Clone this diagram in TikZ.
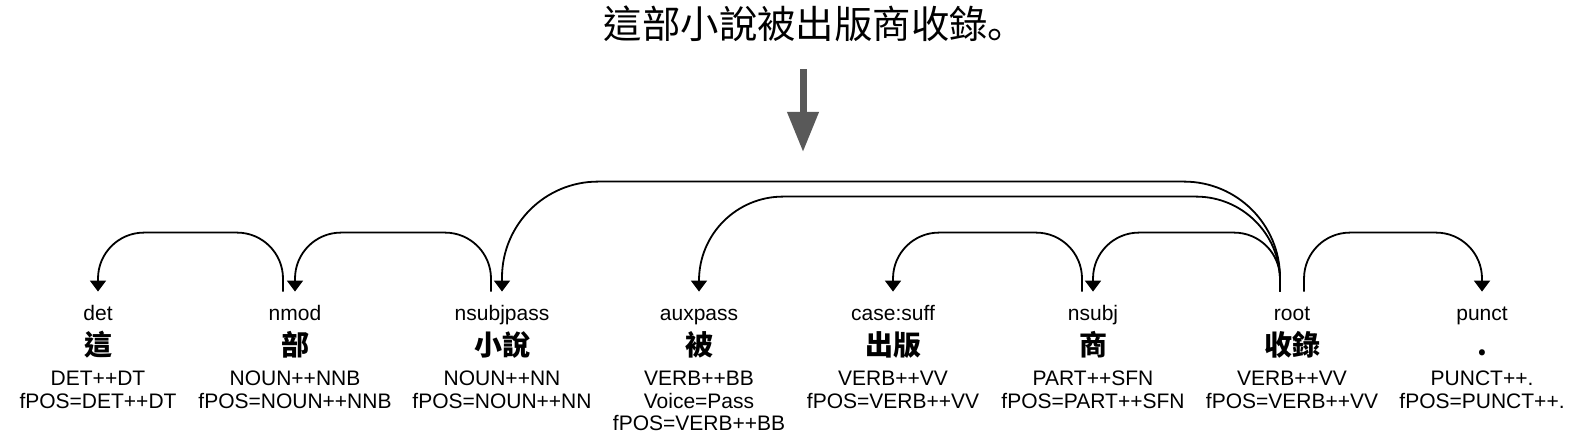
\documentclass[tikz,border=0pt]{standalone}
\usepackage{fontspec}
\setmainfont{Liberation Sans}
\newfontfamily\cjk{Noto Sans CJK TC}
\newfontfamily\cjksc{Noto Sans CJK SC}
\usepackage{tikz}
\usetikzlibrary{arrows.meta, positioning}
\definecolor{arrowgray}{HTML}{595959}
\tikzstyle{title} = [font=\cjk\fontsize{19.2}{19.2}\selectfont, inner sep=0pt, text height=15.5pt, text depth=3.7pt]
\tikzstyle{deprel} = [font=\fontsize{10.5}{12}\selectfont, inner xsep=0pt, inner ysep=7pt, text height=7.5pt, text depth=0pt, anchor=base]
\tikzstyle{word} = [font=\cjk\bfseries\fontsize{14}{14}\selectfont, inner sep=0pt, anchor=base]
\tikzstyle{feats} = [font=\fontsize{10.5}{11.4}\selectfont, align=center, inner sep=0pt, anchor=north]
\tikzstyle{arc} = [line width=0.9pt, -{Triangle[width=8pt,length=5.5pt]}]
\tikzstyle{bigarrow} = [line width=3.5pt, draw=arrowgray, -{Triangle[width=15pt,length=20pt]}]

\begin{document}
\begin{tikzpicture}[x=0.5pt, y=0.5pt]
\useasboundingbox (0,0) rectangle (1582,438);

\node (sent) [title] at (815,411) {這部小說被出版商收錄{\cjksc 。}};
\coordinate (tip) at (803,286);
\draw [bigarrow, shorten <=11.25pt] (sent.south -| tip) -- (tip);

% relation labels
\node (det) [deprel] at (98,117) {det};
\node (nmod) [deprel] at (295,117) {nmod};
\node (nsubjpass) [deprel] at (502,117) {nsubjpass};
\node (auxpass) [deprel] at (699,117) {auxpass};
\node (casesuff) [deprel] at (893,117) {case:suff};
\node (nsubj) [deprel] at (1093,117) {nsubj};
\node (root) [deprel] at (1292,117) {root};
\node (punct) [deprel] at (1482,117) {punct};

% tokens
\node (zhe) [word] at ([yshift=-17.5pt]det.base) {這};
\node (bu) [word] at ([yshift=-17.5pt]nmod.base) {部};
\node (xiaoshuo) [word] at ([yshift=-17.5pt]nsubjpass.base) {小說};
\node (bei) [word] at ([yshift=-17.5pt]auxpass.base) {被};
\node (chuban) [word] at ([yshift=-17.5pt]casesuff.base) {出版};
\node (shang) [word] at ([yshift=-17.5pt]nsubj.base) {商};
\node (shoulu) [word] at ([yshift=-17.5pt]root.base) {收錄};
\node (dot) [word] at ([yshift=-17.5pt]punct.base) {.};

% features
\node (f1) [feats] at ([yshift=-7.2pt]zhe.base) {DET++DT\\fPOS=DET++DT};
\node (f2) [feats] at ([yshift=-7.2pt]bu.base) {NOUN++NNB\\fPOS=NOUN++NNB};
\node (f3) [feats] at ([yshift=-7.2pt]xiaoshuo.base) {NOUN++NN\\fPOS=NOUN++NN};
\node (f4) [feats] at ([yshift=-7.2pt]bei.base) {VERB++BB\\Voice=Pass\\fPOS=VERB++BB};
\node (f5) [feats] at ([yshift=-7.2pt]chuban.base) {VERB++VV\\fPOS=VERB++VV};
\node (f6) [feats] at ([yshift=-7.2pt]shang.base) {PART++SFN\\fPOS=PART++SFN};
\node (f7) [feats] at ([yshift=-7.2pt]shoulu.base) {VERB++VV\\fPOS=VERB++VV};
\node (f8) [feats] at ([yshift=-7.2pt]dot.base) {PUNCT++.\\fPOS=PUNCT++.};

% dependency arcs
\draw [arc, rounded corners=23pt] ([xshift=-6pt]nmod.north) -- ++(0,59) -| (det.north);
\draw [arc, rounded corners=23pt] ([xshift=-5.5pt]nsubjpass.north) -- ++(0,59) -| (nmod.north);
\draw [arc, rounded corners=48pt] ([xshift=-6pt]root.north) -- ++(0,110) -| (nsubjpass.north);
\draw [arc, rounded corners=42pt] ([xshift=-6pt]root.north) -- ++(0,95) -| (auxpass.north);
\draw [arc, rounded corners=23pt] ([xshift=-5.5pt]nsubj.north) -- ++(0,59) -| (casesuff.north);
\draw [arc, rounded corners=23pt] ([xshift=-6pt]root.north) -- ++(0,59) -| (nsubj.north);
\draw [arc, rounded corners=23pt] ([xshift=6pt]root.north) -- ++(0,59) -| (punct.north);

\end{tikzpicture}
\end{document}
